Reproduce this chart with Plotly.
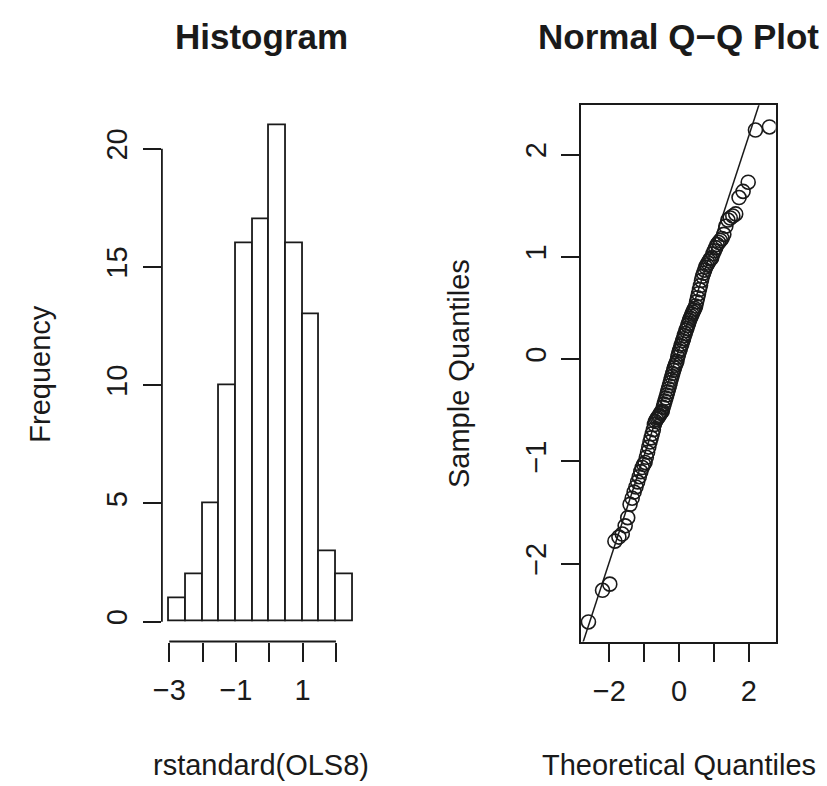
import numpy as np
import plotly.graph_objects as go
from statistics import NormalDist

residuals = [
    -2.57, -2.26, -2.20, -1.78, -1.74, -1.71, -1.63, -1.55,
    -1.42, -1.36, -1.30, -1.25, -1.20, -1.15, -1.10, -1.06, -1.03, -1.01,
    -0.96, -0.91, -0.86, -0.81, -0.77, -0.73, -0.69, -0.64, -0.61, -0.59,
    -0.575, -0.56, -0.55, -0.53, -0.52, -0.51,
    -0.47, -0.44, -0.41, -0.38, -0.35, -0.32, -0.29, -0.26, -0.23, -0.20,
    -0.17, -0.14, -0.11, -0.085, -0.06, -0.04, -0.02,
    0.02, 0.05, 0.08, 0.10, 0.13, 0.15, 0.18, 0.20, 0.23, 0.25, 0.28,
    0.30, 0.33, 0.35, 0.38, 0.40, 0.42, 0.44, 0.46, 0.48, 0.495,
    0.52, 0.56, 0.60, 0.64, 0.68, 0.72, 0.77, 0.81, 0.84, 0.87, 0.90,
    0.92, 0.94, 0.96, 0.98, 0.99,
    1.03, 1.06, 1.09, 1.12, 1.14, 1.16, 1.18, 1.22, 1.30, 1.36, 1.38, 1.40, 1.42,
    1.58, 1.64, 1.73,
    2.24, 2.27,
]

hist_bin_start = -3.0
hist_bin_end = 2.5
hist_bin_size = 0.5

hist_xtick_vals = [-3, -2, -1, 0, 1, 2]
hist_xtick_text = ["\u22123", "", "\u22121", "", "1", ""]
hist_ytick_vals = [0, 5, 10, 15, 20]
hist_ytick_text = ["0", "5", "10", "15", "20"]

qq_xtick_vals = [-2, -1, 0, 1, 2]
qq_xtick_text = ["\u22122", "", "0", "", "2"]
qq_ytick_vals = [-2, -1, 0, 1, 2]
qq_ytick_text = ["\u22122", "\u22121", "0", "1", "2"]

# ---- computations done by R's hist / qqnorm / qqline
y_sorted = np.sort(np.array(residuals))
n = len(y_sorted)
nd = NormalDist()
theo = np.array([nd.inv_cdf((i - 0.5) / n) for i in range(1, n + 1)])
q25, q75 = np.percentile(y_sorted, [25, 75])
z25, z75 = nd.inv_cdf(0.25), nd.inv_cdf(0.75)
slope = (q75 - q25) / (z75 - z25)
intercept = q25 - slope * z25

# ---- layout geometry (pixels -> paper)
W, H = 827, 786
def px(x):
    return x / W
def py(y):
    return 1 - y / H

FONT = "Liberation Sans, Arial, Helvetica, sans-serif"
INK = "#1a1a1a"

hist_xrange = [-3.22, 2.72]
hist_yrange = [-0.84, 21.84]
qq_xrange = [-2.81, 2.77]
qq_yrange = [-2.761, 2.483]

fig = go.Figure()

fig.add_trace(go.Histogram(
    x=residuals,
    xbins=dict(start=hist_bin_start, end=hist_bin_end, size=hist_bin_size),
    autobinx=False,
    marker=dict(color="white", line=dict(color=INK, width=1.8)),
    xaxis="x", yaxis="y",
    showlegend=False,
))

fig.add_trace(go.Scatter(
    x=theo, y=y_sorted, mode="markers",
    marker=dict(symbol="circle-open", size=14, color=INK, line=dict(width=1.6, color=INK)),
    xaxis="x2", yaxis="y2", showlegend=False,
))

line_x = np.array(qq_xrange)
fig.add_trace(go.Scatter(
    x=line_x, y=intercept + slope * line_x, mode="lines",
    line=dict(color=INK, width=1.5),
    xaxis="x2", yaxis="y2", showlegend=False,
))

tickfont = dict(family=FONT, size=29, color=INK)
ydom = [py(641.5), py(105.2)]

fig.update_layout(
    width=W, height=H,
    margin=dict(l=0, r=0, t=0, b=0),
    paper_bgcolor="white", plot_bgcolor="white",
    bargap=0,
    xaxis=dict(domain=[px(154.6), px(354.8)], range=hist_xrange,
               showgrid=False, zeroline=False, showline=False,
               tickmode="array", tickvals=hist_xtick_vals, ticktext=hist_xtick_text,
               ticks="outside", ticklen=19, tickwidth=1.8, tickcolor=INK,
               tickfont=tickfont, ticklabelstandoff=4),
    yaxis=dict(domain=ydom, range=hist_yrange,
               showgrid=False, zeroline=False, showline=False,
               tickmode="array", tickvals=hist_ytick_vals, ticktext=hist_ytick_text,
               ticks="outside", ticklen=18, tickwidth=1.8, tickcolor=INK,
               tickangle=-90, tickfont=tickfont, ticklabelstandoff=4),
    xaxis2=dict(domain=[px(578.3), px(775)], range=qq_xrange, anchor="y2",
                showgrid=False, zeroline=False, showline=True, mirror=True,
                linecolor=INK, linewidth=1.8,
                tickmode="array", tickvals=qq_xtick_vals, ticktext=qq_xtick_text,
                ticks="outside", ticklen=19, tickwidth=1.8, tickcolor=INK,
                tickfont=tickfont, ticklabelstandoff=4),
    yaxis2=dict(domain=ydom, range=qq_yrange, anchor="x2",
                showgrid=False, zeroline=False, showline=True, mirror=True,
                linecolor=INK, linewidth=1.8,
                tickmode="array", tickvals=qq_ytick_vals, ticktext=qq_ytick_text,
                ticks="outside", ticklen=18, tickwidth=1.8, tickcolor=INK,
                tickangle=-90, tickfont=tickfont, ticklabelstandoff=4),
)

# detached R-style axis lines for the histogram
fig.add_shape(type="line", xref="x domain", yref="y",
              x0=0, x1=0, y0=min(hist_ytick_vals), y1=max(hist_ytick_vals),
              line=dict(color=INK, width=1.8))
fig.add_shape(type="line", xref="x", yref="y domain",
              x0=min(hist_xtick_vals), x1=max(hist_xtick_vals), y0=0, y1=0,
              line=dict(color=INK, width=1.8))

def ann(text, x, y, size, angle=0, bold=False):
    fig.add_annotation(text=("<b>%s</b>" % text) if bold else text,
                       x=px(x), y=py(y), xref="paper", yref="paper",
                       xanchor="center", yanchor="middle", showarrow=False,
                       textangle=angle, font=dict(family=FONT, size=size, color=INK))

ann("Histogram", 255, 37, 35, bold=True)
ann("Normal Q\u2212Q Plot", 677, 37, 35, bold=True)
ann("rstandard(OLS8)", 255, 765, 29)
ann("Theoretical Quantiles", 677, 765, 29)
ann("Frequency", 31, 374, 29, angle=-90)
ann("Sample Quantiles", 455, 374, 29, angle=-90)

fig.write_html(
    "out.html",
    config={"displayModeBar": False},
    post_script="document.body.style.margin='0';document.body.style.overflow='hidden';",
)
